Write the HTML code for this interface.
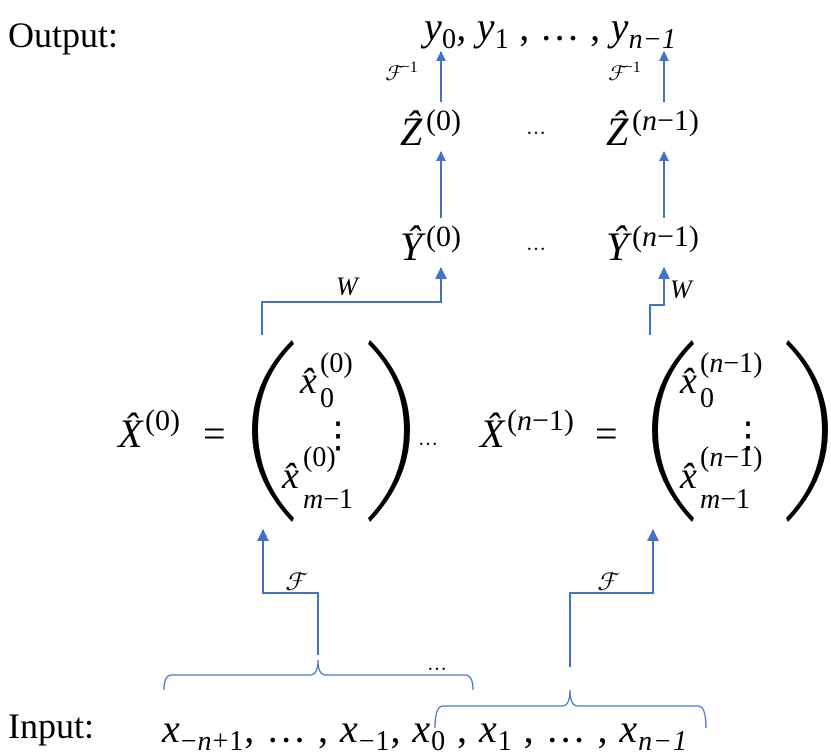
<!DOCTYPE html>
<html><head><style>
body{margin:0;background:#fff}
svg{display:block}
text{font-family:"Liberation Serif",serif;fill:#000}
.i{font-style:italic}
</style></head><body>
<svg width="831" height="754" viewBox="0 0 831 754">
<defs>
<marker id="a" markerWidth="10" markerHeight="10" refX="9" refY="5" orient="auto" markerUnits="userSpaceOnUse" viewBox="0 0 10 10"><path d="M0,0 L10,5 L0,10Z" fill="#4472c4"/></marker>
<marker id="b" markerWidth="12" markerHeight="12" refX="11" refY="6" orient="auto" markerUnits="userSpaceOnUse" viewBox="0 0 12 12"><path d="M0,0 L12,6 L0,12Z" fill="#4472c4"/></marker>
</defs>
<g stroke="#4472c4" stroke-width="2" fill="none">
<path d="M441 102 V52" marker-end="url(#a)"/>
<path d="M664 102 V52" marker-end="url(#a)"/>
<path d="M441 218 V152" marker-end="url(#a)"/>
<path d="M664 218 V152" marker-end="url(#a)"/>
<path d="M262 335 V302 H441 V268" marker-end="url(#b)"/>
<path d="M650 335 V305 H664 V268" marker-end="url(#b)"/>
<path d="M318 655 V593 H263 V530" marker-end="url(#b)"/>
<path d="M570 667 V593 H653 V530" marker-end="url(#b)"/>
</g>
<g stroke="#4472c4" stroke-width="1.3" fill="none">
<path d="M164 690 Q164 675 172 675 H310 Q318 675 318 660 Q318 675 326 675 H465 Q473 675 473 690"/>
<path d="M435 728 Q435 706 443 706 H562 Q570 706 570 690 Q570 706 578 706 H698 Q706 706 706 728"/>
</g>
<g fill="#000">
<path d="M292 340 Q252 380 252 430 Q252 480 292 522 L294 518 Q258 480 258 430 Q258 380 294 344Z"/>
<path d="M370 340 Q410 380 410 430 Q410 480 370 522 L368 518 Q404 480 404 430 Q404 380 368 344Z"/>
<path d="M692 340 Q652 380 652 430 Q652 480 692 522 L694 518 Q658 480 658 430 Q658 380 694 344Z"/>
<path d="M788 340 Q828 380 828 430 Q828 480 788 522 L786 518 Q822 480 822 430 Q822 380 786 344Z"/>
</g>
<text x="8" y="47" font-size="36">Output:</text>
<text x="8" y="738" font-size="36">Input:</text>
<text x="424" y="40" font-size="40" class="i" textLength="252" lengthAdjust="spacing">y<tspan font-size="28" dy="8" font-style="normal">0</tspan><tspan dy="-8">, y</tspan><tspan font-size="28" dy="8" font-style="normal">1</tspan><tspan dy="-8" font-style="normal"> , … , </tspan>y<tspan font-size="28" dy="8">n−1</tspan></text>
<text x="385" y="80" font-size="20" class="i">ℱ<tspan dy="-8" font-size="16" font-style="normal">−1</tspan></text>
<text x="608" y="80" font-size="20" class="i">ℱ<tspan dy="-8" font-size="16" font-style="normal">−1</tspan></text>
<text x="400" y="145" font-size="40" class="i">Ẑ</text><text x="426" y="130" font-size="30">(0)</text>
<text x="526" y="134" font-size="20">…</text>
<text x="606" y="145" font-size="40" class="i">Ẑ</text><text x="632" y="130" font-size="30">(<tspan class="i">n</tspan>−1)</text>
<text x="400" y="260" font-size="40" class="i">Ŷ</text><text x="426" y="246" font-size="30">(0)</text>
<text x="526" y="250" font-size="20">…</text>
<text x="606" y="260" font-size="40" class="i">Ŷ</text><text x="632" y="246" font-size="30">(<tspan class="i">n</tspan>−1)</text>
<text x="336" y="295" font-size="26" class="i">W</text>
<text x="670" y="298" font-size="26" class="i">W</text>
<text x="118" y="447" font-size="40" class="i">X̂</text><text x="145" y="430" font-size="30">(0)</text><text x="203" y="447" font-size="40">=</text>
<text x="300" y="393" font-size="38" class="i">x̂</text><text x="320" y="372" font-size="28">(0)</text><text x="320" y="407" font-size="28">0</text>
<text x="320" y="447" font-size="36">⋮</text>
<text x="282" y="488" font-size="38" class="i">x̂</text><text x="303" y="466" font-size="28">(0)</text><text x="303" y="508" font-size="28" class="i">m<tspan font-style="normal">−1</tspan></text>
<text x="418" y="445" font-size="20">…</text>
<text x="480" y="447" font-size="40" class="i">X̂</text><text x="507" y="430" font-size="30">(<tspan class="i">n</tspan>−1)</text><text x="595" y="447" font-size="40">=</text>
<text x="680" y="393" font-size="38" class="i">x̂</text><text x="700" y="372" font-size="28">(<tspan class="i">n</tspan>−1)</text><text x="700" y="407" font-size="28">0</text>
<text x="730" y="447" font-size="36">⋮</text>
<text x="680" y="488" font-size="38" class="i">x̂</text><text x="700" y="466" font-size="28">(<tspan class="i">n</tspan>−1)</text><text x="700" y="508" font-size="28" class="i">m<tspan font-style="normal">−1</tspan></text>
<text x="285" y="590" font-size="24" class="i">ℱ</text>
<text x="597" y="590" font-size="24" class="i">ℱ</text>
<text x="427" y="670" font-size="20">…</text>
<text x="162" y="742" font-size="40" class="i" textLength="525" lengthAdjust="spacing">x<tspan font-size="28" dy="8" font-style="normal">−<tspan class="i">n</tspan>+1</tspan><tspan dy="-8" font-style="normal">, … , </tspan>x<tspan font-size="28" dy="8" font-style="normal">−1</tspan><tspan dy="-8" font-style="normal">, </tspan>x<tspan font-size="28" dy="8" font-style="normal">0</tspan><tspan dy="-8" font-style="normal"> , </tspan>x<tspan font-size="28" dy="8" font-style="normal">1</tspan><tspan dy="-8" font-style="normal"> , … , </tspan>x<tspan font-size="28" dy="8">n−1</tspan></text>
</svg>
</body></html>
